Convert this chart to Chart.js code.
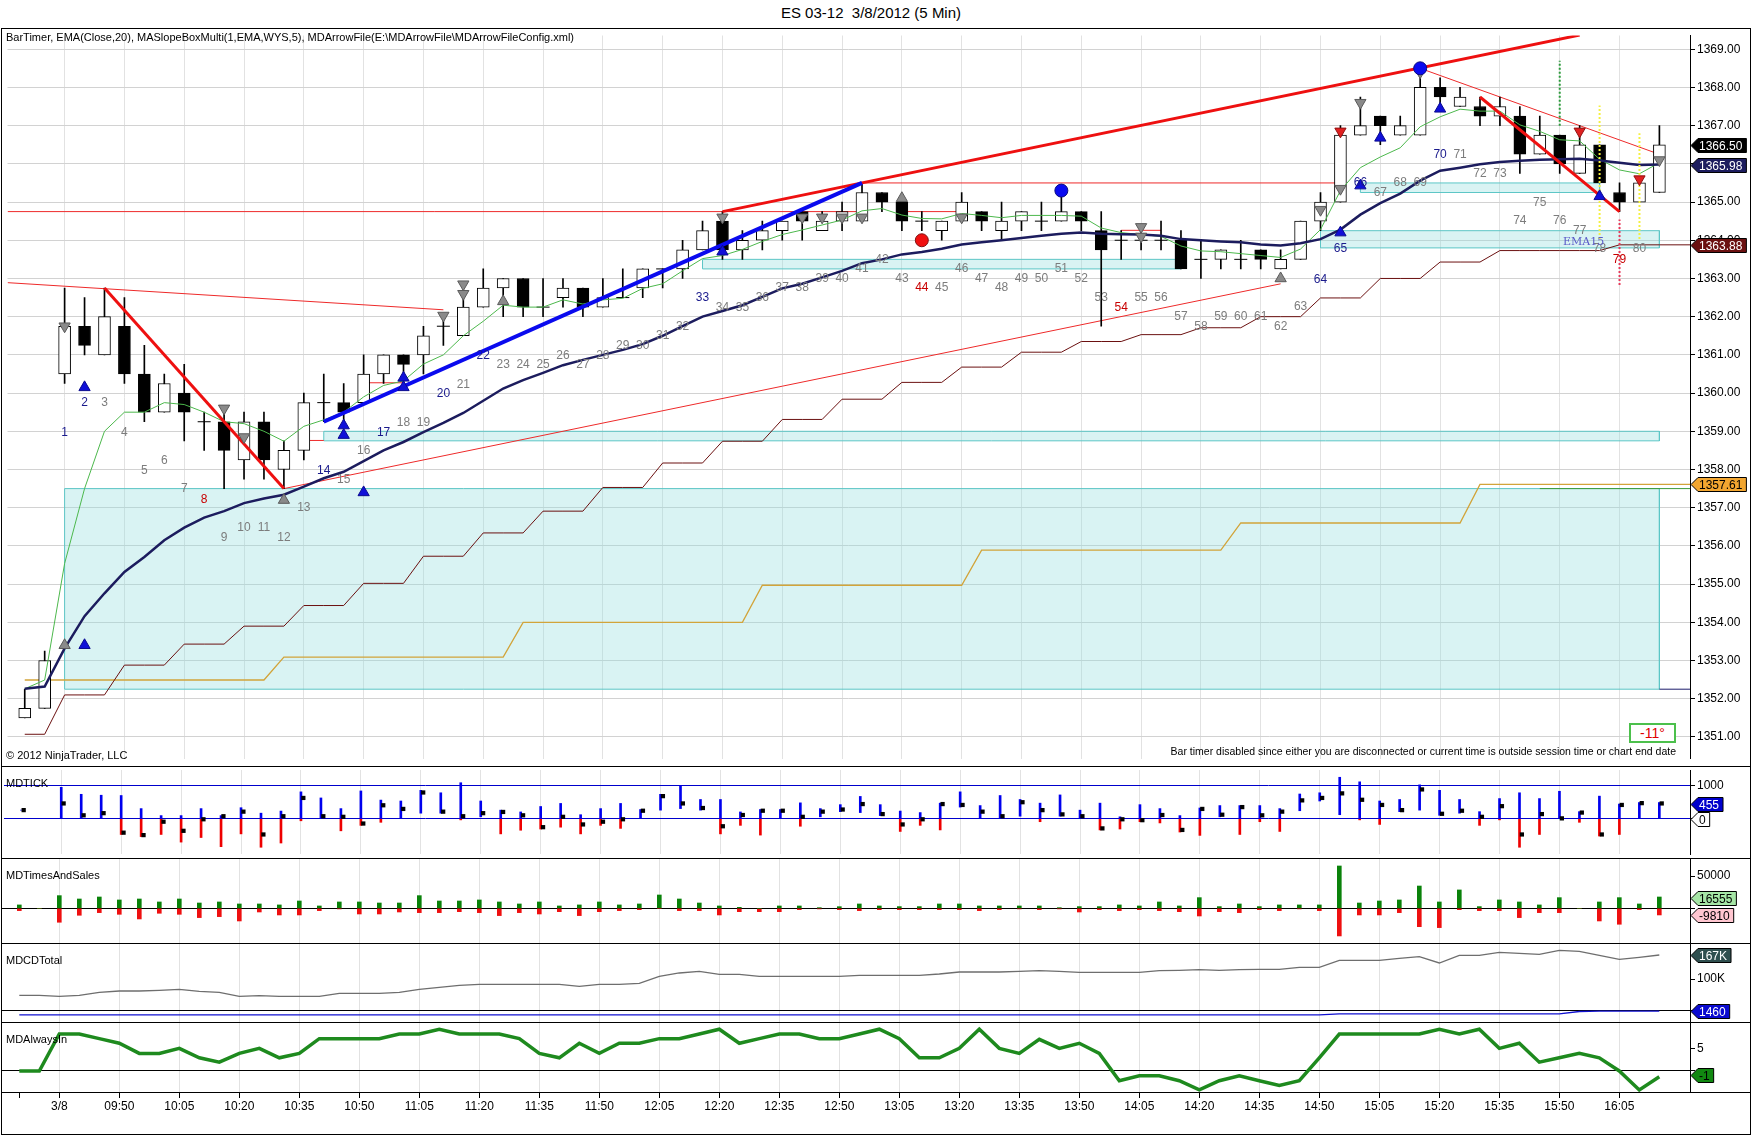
<!DOCTYPE html>
<html>
<head>
<meta charset="utf-8">
<script src="https://cdn.jsdelivr.net/npm/chart.js@4.4.1/dist/chart.umd.min.js"></script>
<style>
  html, body { margin: 0; padding: 0; background: #fff; }
  body { width: 1752px; height: 1136px; position: relative; overflow: hidden; font-family: "Liberation Sans", Arial, sans-serif; }
  canvas { position: absolute; left: 0; display: block; }
  .txt { position: absolute; white-space: nowrap; color: #000; line-height: 1; }
  .sep { position: absolute; left: 1px; width: 1750px; height: 1px; background: #000; }
  #frame { position: absolute; left: 1px; top: 28px; width: 1750px; height: 1107px; border: 1px solid #000; box-sizing: border-box; }
  #angle { position: absolute; left: 1629px; top: 723px; width: 47px; height: 20px; border: 2px solid #4cc04c; box-sizing: border-box; color: #e00000; font-size: 14px; text-align: center; line-height: 16px; background: #fff; }
</style>
</head>
<body>
<div class="txt" style="left:0;width:1742px;top:5px;text-align:center;font-size:15px;">ES 03-12&nbsp;&nbsp;3/8/2012 (5 Min)</div>

<canvas id="cMain" width="1752" height="738" style="top:28px"></canvas>
<canvas id="cTick" width="1752" height="92" style="top:766px"></canvas>
<canvas id="cTas" width="1752" height="85" style="top:858px"></canvas>
<canvas id="cCd" width="1752" height="79" style="top:943px"></canvas>
<canvas id="cAi" width="1752" height="114" style="top:1022px"></canvas>

<div id="frame"></div>
<div class="sep" style="top:766px"></div>
<div class="sep" style="top:858px"></div>
<div class="sep" style="top:943px"></div>
<div class="sep" style="top:1022px"></div>
<div class="sep" style="top:1092px"></div>

<div class="txt" style="left:6px;top:32px;font-size:11px;">BarTimer, EMA(Close,20), MASlopeBoxMulti(1,EMA,WYS,5), MDArrowFile(E:\MDArrowFile\MDArrowFileConfig.xml)</div>
<div class="txt" style="left:6px;top:750px;font-size:11px;">© 2012 NinjaTrader, LLC</div>
<div class="txt" style="right:76px;top:746px;font-size:10.5px;">Bar timer disabled since either you are disconnected or current time is outside session time or chart end date</div>
<div id="angle">-11°</div>
<div class="txt" style="left:6px;top:778px;font-size:11px;">MDTICK</div>
<div class="txt" style="left:6px;top:870px;font-size:11px;">MDTimesAndSales</div>
<div class="txt" style="left:6px;top:955px;font-size:11px;">MDCDTotal</div>
<div class="txt" style="left:6px;top:1034px;font-size:11px;">MDAlwaysIn</div>

<script>
// ---- price bars (index 0,1 = previous session, index 2 = bar "1" at 9:35) ----
const open = [
  1351.5, 1351.75, 1360.5, 1361.75, 1361.0, 1361.75, 1360.5, 1359.5, 1360.0, 1359.25,
  1359.25, 1358.25, 1359.25, 1358.0, 1358.5, 1359.75, 1359.75, 1359.75, 1360.5, 1361.0,
  1361.0, 1361.75, 1361.5, 1362.25, 1362.75, 1363.0, 1362.25, 1362.5, 1362.75, 1362.25,
  1362.5, 1362.75, 1363.25, 1363.25, 1363.75, 1364.5, 1363.75, 1364.0, 1364.25, 1364.75,
  1364.25, 1364.5, 1364.5, 1365.25, 1365.0, 1364.5, 1364.25, 1364.5, 1364.75, 1364.25,
  1364.5, 1364.5, 1364.5, 1364.75, 1364.25, 1364.0, 1364.0, 1364.0, 1364.0, 1363.5,
  1363.5, 1363.5, 1363.75, 1363.25, 1363.5, 1364.5, 1365.0, 1366.75, 1367.25, 1366.75,
  1366.75, 1368.0, 1367.5, 1367.5, 1367.25, 1367.25, 1366.25, 1366.75, 1365.75, 1366.5,
  1365.25, 1365.0, 1365.25
];
const high = [
  1352.25, 1353.25, 1362.75, 1362.5, 1362.75, 1362.5, 1361.25, 1360.5, 1360.75, 1359.5,
  1359.5, 1359.5, 1359.5, 1358.75, 1360.0, 1360.5, 1360.25, 1361.0, 1361.0, 1361.0,
  1361.75, 1362.0, 1362.5, 1363.25, 1363.0, 1363.0, 1363.0, 1363.0, 1362.75, 1363.0,
  1363.25, 1363.25, 1363.25, 1364.0, 1364.5, 1364.75, 1364.25, 1364.5, 1364.5, 1364.75,
  1364.75, 1365.0, 1365.5, 1365.25, 1365.0, 1364.75, 1364.5, 1365.25, 1364.75, 1365.0,
  1364.75, 1365.0, 1365.25, 1364.75, 1364.75, 1364.25, 1364.25, 1364.5, 1364.25, 1364.0,
  1363.75, 1364.0, 1363.75, 1363.75, 1364.5, 1365.25, 1367.0, 1367.75, 1367.25, 1367.25,
  1368.5, 1368.25, 1368.0, 1367.75, 1367.75, 1367.5, 1367.25, 1366.75, 1367.0, 1366.5,
  1365.5, 1365.5, 1367.0
];
const low = [
  1351.5, 1351.75, 1360.25, 1361.0, 1361.0, 1360.25, 1359.25, 1359.5, 1358.75, 1358.5,
  1357.5, 1357.75, 1357.75, 1357.5, 1358.25, 1359.25, 1359.25, 1359.75, 1360.25, 1360.25,
  1360.5, 1361.25, 1361.5, 1362.25, 1362.0, 1362.0, 1362.0, 1362.25, 1362.0, 1362.25,
  1362.5, 1362.5, 1362.75, 1363.0, 1363.75, 1363.5, 1363.5, 1363.75, 1364.0, 1364.0,
  1364.25, 1364.25, 1364.5, 1364.75, 1364.25, 1364.25, 1364.0, 1364.5, 1364.25, 1364.0,
  1364.25, 1364.25, 1364.5, 1364.25, 1361.75, 1363.5, 1363.75, 1363.75, 1363.25, 1363.0,
  1363.25, 1363.25, 1363.25, 1363.25, 1363.5, 1364.25, 1365.0, 1366.75, 1366.5, 1366.75,
  1366.75, 1367.5, 1367.5, 1367.0, 1367.0, 1365.75, 1366.25, 1365.75, 1365.75, 1365.5,
  1364.75, 1365.0, 1365.25
];
const close = [
  1351.75, 1353.0, 1361.75, 1361.25, 1362.0, 1360.5, 1359.5, 1360.25, 1359.5, 1359.25,
  1358.5, 1359.25, 1358.25, 1358.5, 1359.75, 1359.75, 1359.5, 1360.5, 1361.0, 1360.75,
  1361.5, 1361.75, 1362.25, 1362.75, 1363.0, 1362.25, 1362.25, 1362.75, 1362.25, 1362.5,
  1362.5, 1363.25, 1363.25, 1363.75, 1364.25, 1363.75, 1364.0, 1364.25, 1364.5, 1364.5,
  1364.5, 1364.75, 1365.25, 1365.0, 1364.5, 1364.5, 1364.5, 1365.0, 1364.5, 1364.5,
  1364.75, 1364.5, 1364.75, 1364.5, 1363.75, 1364.0, 1364.0, 1364.0, 1363.25, 1363.5,
  1363.75, 1363.5, 1363.5, 1363.5, 1364.5, 1365.0, 1366.75, 1367.0, 1367.0, 1367.0,
  1368.0, 1367.75, 1367.75, 1367.25, 1367.5, 1366.25, 1366.75, 1366.0, 1366.5, 1365.5,
  1365.0, 1365.5, 1366.5
];

// ---- indicator lines ----
const ema20 = [
  1352.26, 1352.49, 1355.54, 1357.5, 1359.0, 1359.5, 1359.5, 1359.75, 1359.7, 1359.5,
  1359.25, 1359.2, 1359.0, 1358.74, 1359.13, 1359.3, 1359.5, 1359.9, 1360.2, 1360.32,
  1360.76, 1361.0, 1361.5, 1361.88, 1362.3, 1362.25, 1362.25, 1362.44, 1362.33, 1362.44,
  1362.48, 1362.74, 1362.86, 1363.2, 1363.52, 1363.6, 1363.76, 1363.97, 1364.15, 1364.27,
  1364.4, 1364.53, 1364.77, 1364.83, 1364.66, 1364.57, 1364.56, 1364.7, 1364.65, 1364.59,
  1364.65, 1364.65, 1364.65, 1364.63, 1364.32, 1364.2, 1364.15, 1364.1, 1363.85, 1363.72,
  1363.7, 1363.65, 1363.6, 1363.55, 1363.77, 1364.28, 1365.3, 1365.9, 1366.18, 1366.42,
  1366.97, 1367.23, 1367.43, 1367.38, 1367.38, 1367.02, 1366.85, 1366.63, 1366.6, 1366.12,
  1365.84, 1365.74, 1366.03
];
const slowMa = [
  1352.26, 1352.32, 1353.32, 1354.16, 1354.76, 1355.32, 1355.71, 1356.15, 1356.48, 1356.74,
  1356.91, 1357.12, 1357.24, 1357.34, 1357.55, 1357.77, 1357.94, 1358.22, 1358.5, 1358.72,
  1358.98, 1359.22, 1359.48, 1359.8, 1360.12, 1360.34, 1360.53, 1360.73, 1360.87, 1361.0,
  1361.13, 1361.28, 1361.5, 1361.75, 1362.0, 1362.15, 1362.3, 1362.52, 1362.74, 1362.86,
  1363.03, 1363.2, 1363.4, 1363.5, 1363.63, 1363.69, 1363.78, 1363.89, 1363.95, 1364.0,
  1364.06, 1364.12, 1364.17, 1364.2, 1364.17, 1364.16, 1364.15, 1364.12, 1364.03, 1364.0,
  1363.97, 1363.95, 1363.89, 1363.86, 1363.92, 1364.03, 1364.28, 1364.67, 1364.97, 1365.22,
  1365.56, 1365.82, 1365.9, 1365.99, 1366.05, 1366.08, 1366.11, 1366.12, 1366.13, 1366.09,
  1366.03, 1365.97, 1365.98
];
const trailStop = [
  1351.07, 1351.07, 1352.1, 1352.1, 1352.1, 1352.88, 1352.88, 1352.88, 1353.43, 1353.43,
  1353.43, 1353.9, 1353.9, 1353.9, 1354.44, 1354.44, 1354.44, 1355.02, 1355.02, 1355.02,
  1355.73, 1355.73, 1355.73, 1356.34, 1356.34, 1356.34, 1356.91, 1356.91, 1356.91, 1357.53,
  1357.53, 1357.53, 1358.17, 1358.17, 1358.17, 1358.74, 1358.74, 1358.74, 1359.31, 1359.31,
  1359.31, 1359.84, 1359.84, 1359.84, 1360.28, 1360.28, 1360.28, 1360.68, 1360.68, 1360.68,
  1361.07, 1361.07, 1361.07, 1361.35, 1361.35, 1361.35, 1361.53, 1361.53, 1361.53, 1361.71,
  1361.71, 1361.71, 1362.0, 1362.0, 1362.0, 1362.49, 1362.49, 1362.49, 1363.0, 1363.0,
  1363.0, 1363.43, 1363.43, 1363.43, 1363.73, 1363.73, 1363.73, 1363.73, 1363.73, 1363.73,
  1363.88, 1363.88, 1363.88
];
const slowStop = [
  1352.49, 1352.49, 1352.49, 1352.49, 1352.49, 1352.49, 1352.49, 1352.49, 1352.49, 1352.49,
  1352.49, 1352.49, 1352.49, 1353.09, 1353.09, 1353.09, 1353.09, 1353.09, 1353.09, 1353.09,
  1353.09, 1353.09, 1353.09, 1353.09, 1353.09, 1354.0, 1354.0, 1354.0, 1354.0, 1354.0,
  1354.0, 1354.0, 1354.0, 1354.0, 1354.0, 1354.0, 1354.0, 1354.97, 1354.97, 1354.97,
  1354.97, 1354.97, 1354.97, 1354.97, 1354.97, 1354.97, 1354.97, 1354.97, 1355.89, 1355.89,
  1355.89, 1355.89, 1355.89, 1355.89, 1355.89, 1355.89, 1355.89, 1355.89, 1355.89, 1355.89,
  1355.89, 1356.6, 1356.6, 1356.6, 1356.6, 1356.6, 1356.6, 1356.6, 1356.6, 1356.6,
  1356.6, 1356.6, 1356.6, 1357.61, 1357.61, 1357.61, 1357.61, 1357.61, 1357.61, 1357.61,
  1357.61, 1357.61, 1357.61
];

// slope boxes: [fromBar, toBar, low, high]
const slopeBoxes = [
  [2, 82, 1352.25, 1357.5],
  [15, 82, 1358.75, 1359.0],
  [34, 58, 1363.25, 1363.5],
  [65, 82, 1363.8, 1364.25],
  [67, 79, 1365.25, 1365.5]
];

// drawn lines: [[bar, price], [bar, price]]
const thickRedLines = [
  [[4, 1362.75], [13, 1357.5]],
  [[35, 1364.75], [78, 1369.37]],
  [[73, 1367.75], [80, 1364.75]]
];
const thickBlueLines = [
  [[15, 1359.25], [42, 1365.5]]
];
const thinRedLines = [
  [[-0.86, 1362.89], [21, 1362.18]],
  [[13, 1357.5], [63, 1362.86]],
  [[70, 1368.5], [82, 1366.25]],
  [[-0.86, 1364.75], [42, 1364.75]],
  [[42, 1365.5], [66, 1365.5]],
  [[14, 1358.76], [15, 1358.76]],
  [[17, 1360.27], [19, 1360.27]],
  [[44, 1364.75], [47, 1364.75]],
  [[55, 1364.26], [57, 1364.26]]
];
const greenDots = [[[77, 1367.0], [77, 1368.7]]];
const yellowDots = [[[79, 1364.03], [79, 1367.53]], [[81, 1364.03], [81, 1366.8]]];
const redDots = [[[80, 1362.83], [80, 1364.54]]];

// arrow / dot markers: [bar, price]
const grayDown = [[2, 1361.75], [10, 1359.6], [11, 1358.85], [21, 1362.03], [22, 1362.85], [22, 1362.6],
  [35, 1364.6], [39, 1364.6], [40, 1364.6], [41, 1364.6], [42, 1364.6], [47, 1364.6], [56, 1364.35],
  [56, 1364.1], [65, 1364.8], [66, 1365.35], [67, 1367.6], [70, 1368.4], [82, 1366.1]];
const grayUp = [[2, 1353.4], [13, 1357.2], [24, 1362.4], [44, 1365.1], [63, 1363.0]];
const blueUp = [[3, 1360.15], [3, 1353.4], [16, 1359.15], [16, 1358.9], [17, 1357.4], [19, 1360.4],
  [19, 1360.15], [35, 1363.7], [66, 1364.2], [67, 1365.43], [68, 1366.68], [71, 1367.44], [79, 1365.15]];
const redDown = [[66, 1366.85], [78, 1366.85], [81, 1365.6]];
const blueDots = [[52, 1365.3], [70, 1368.5]];
const redDotsMk = [[45, 1364.0]];

// bar count labels 1..80 (price where each number is printed)
const numberY = [
  1358.96, 1359.74, 1359.74, 1358.96, 1357.98, 1358.23, 1357.5, 1357.22, 1356.22, 1356.47,
  1356.47, 1356.22, 1356.99, 1357.98, 1357.73, 1358.49, 1358.96, 1359.22, 1359.22, 1359.98,
  1360.23, 1360.98, 1360.75, 1360.75, 1360.75, 1360.98, 1360.75, 1360.98, 1361.24, 1361.24,
  1361.5, 1361.75, 1362.5, 1362.24, 1362.24, 1362.5, 1362.75, 1362.75, 1362.99, 1362.99,
  1363.25, 1363.49, 1362.99, 1362.75, 1362.75, 1363.25, 1362.99, 1362.75, 1362.99, 1362.99,
  1363.25, 1362.99, 1362.5, 1362.24, 1362.5, 1362.5, 1361.99, 1361.75, 1361.99, 1361.99,
  1361.99, 1361.75, 1362.25, 1362.98, 1363.77, 1365.5, 1365.24, 1365.5, 1365.5, 1366.25,
  1366.25, 1365.74, 1365.74, 1364.5, 1364.98, 1364.5, 1364.24, 1363.77, 1363.5, 1363.77
];
const navyNumbers = [1, 2, 14, 17, 20, 22, 33, 64, 65, 66, 70];
const redNumbers = [8, 44, 54, 79];

const priceTicks = [1351, 1352, 1353, 1354, 1355, 1356, 1357, 1358, 1359, 1360,
  1361, 1362, 1363, 1364, 1365, 1366, 1367, 1368, 1369];
const timeTickIndex = [2, 5, 8, 11, 14, 17, 20, 23, 26, 29, 32, 35, 38, 41, 44, 47, 50, 53, 56, 59, 62, 65, 68, 71, 74, 77, 80];
const timeLabels = ['3/8', '09:50', '10:05', '10:20', '10:35', '10:50', '11:05', '11:20', '11:35', '11:50',
  '12:05', '12:20', '12:35', '12:50', '13:05', '13:20', '13:35', '13:50', '14:05', '14:20',
  '14:35', '14:50', '15:05', '15:20', '15:35', '15:50', '16:05'];

// ---- MDTICK ----
const tickHigh = [
  260, null, 954, 741, 713, 704, 306, 93, 93, 306,
  93, 333, 167, 231, 815, 630, 306, 843, 565, 537,
  861, 787, 1093, 537, 259, 204, 370, 463, 120, 306,
  463, 278, 741, 1000, 583, 583, 204, 278, 278, 481,
  306, 426, 676, 426, 231, 185, 472, 815, 398, 704,
  583, 472, 722, 259, 472, 56, 426, 306, 93, 324,
  398, 398, 398, 306, 750, 787, 1259, 1120, 537, 583,
  1028, 861, 583, 213, 611, 787, 611, 833, 213, 685,
  444, 491, 491
];
const tickLow = [
  260, null, 0, 0, 0, -481, -546, -481, -713, -574,
  -852, -463, -870, -741, -65, 0, -370, -204, -111, 0,
  167, 167, -37, 56, -463, -352, -315, -259, -463, -204,
  -296, 0, 259, 306, 259, -463, -204, -500, 0, -231,
  56, 213, 185, 93, -389, -204, -343, 352, 0, 0,
  74, -93, 74, 0, -343, -315, -93, -130, -407, -509,
  56, -481, -93, -389, 241, 537, 120, -37, -176, 213,
  259, 102, 167, -204, -37, -870, -481, 0, -111, -528,
  -481, 0, 0
];
const tickClose = [
  260, null, 463, 102, 167, -426, -500, -93, -370, -19,
  74, 213, -481, 74, 630, 74, 56, -148, 407, 296,
  796, 213, 74, 167, 204, 102, -259, 56, -176, -93,
  -19, 241, 685, 463, 324, -231, 111, 241, 241, 56,
  213, 278, 444, 139, -176, -19, 444, 417, 213, 74,
  500, 259, 130, 74, -296, -19, -46, 111, -343, 296,
  120, 352, 102, 213, 556, 630, 769, 574, 417, 259,
  889, 148, 241, 56, 380, -481, 139, 9, 185, -481,
  417, 472, 463
];

// ---- MDTimesAndSales ----
const tasBuy = [
  5200, 0, 19600, 14400, 17500, 12900, 14400, 9800, 14400, 8200,
  9800, 6700, 6700, 5200, 11300, 3600, 9800, 9800, 8200, 8200,
  19600, 11300, 11300, 12900, 9800, 6700, 9800, 3600, 5200, 9800,
  5200, 6700, 20600, 14400, 8200, 3600, 1500, 0, 3600, 3600,
  1000, 2500, 6700, 3600, 2600, 2600, 6700, 6700, 3600, 3600,
  3600, 3600, 1000, 2600, 2600, 5200, 3600, 9800, 3600, 16500,
  2600, 6700, 2600, 5200, 5200, 5200, 65500, 8200, 11300, 12900,
  34500, 9800, 28400, 2600, 12900, 9800, 5200, 16500, 0, 9800,
  16500, 6700, 17500
];
const tasSell = [
  -3600, 0, -21600, -10800, -6700, -9300, -16500, -7700, -9300, -14400,
  -12900, -19600, -5700, -10300, -10300, -3600, -1000, -8800, -8800, -5700,
  -6700, -6700, -5200, -6700, -11300, -6700, -8800, -5200, -11300, -5200,
  -3600, -2100, 0, -3600, -3600, -10300, -5200, -5200, -5200, -2100,
  -1000, -2100, -3600, -2100, -2100, -2100, -2100, -2100, -3600, -2100,
  -1000, -2100, -1000, -5700, -2100, -3600, -2100, -3600, -5200, -11900,
  -5200, -6700, -2100, -3600, -1000, -3600, -42800, -10300, -10300, -6700,
  -28400, -29900, -2100, -3600, -3600, -14400, -6700, -6700, 0, -19600,
  -24700, -2100, -10300
];

// ---- MDCDTotal (thousands) ----
const cdTotal = [
  54.4, 54.4, 51.6, 54.4, 62.8, 66.5, 66.5, 68.4, 71.2, 65.6,
  62.8, 51.6, 53.5, 51.6, 51.6, 51.6, 60, 60, 60, 62.8,
  71.2, 76.7, 82.3, 85.1, 85.1, 85.1, 85.1, 85.1, 79.5, 85.1,
  85.1, 87.9, 107.4, 116.8, 121.4, 113, 113, 107.4, 107.4, 107.4,
  107.4, 107.4, 110, 110.2, 110.2, 110.2, 114, 119.5, 119.5, 119.5,
  121.4, 123.3, 121.4, 118.6, 118.6, 118.6, 118.6, 123.3, 124.2, 126.1,
  124.2, 126.1, 127, 127, 132.6, 132.6, 152.1, 152.1, 152.1, 157.7,
  162.3, 144.7, 166.1, 166.1, 174.4, 171.7, 168.9, 180, 177.2, 166.1,
  154.9, 160.5, 167
];
const cdDelta = [
  0, 0, 0, 0, 0, 0, 0, 0, 0, 0,
  0, 0, 0, 0, 0, 0, 0, 0, 0, 0,
  0, 0, 0, 0, 0, 0, 0, 0, 0, 0,
  0, 0, 0, 0, 0, 0, 0, 0, 0, 0,
  0, 0, 0, 0, 0, 0, 0, 0, 0, 0,
  0, 0, 0, 0, 0, 0, 0, 0, 0, 0,
  0, 0, 0, 0, 0, 0, 2.8, 2.8, 2.8, 2.8,
  2.8, 2.8, 2.8, 2.8, 2.8, 2.8, 2.8, 2.8, 9.3, 10.5,
  10.5, 10.5, 10.5
];
const cdRefLevel = 10.7;

// ---- MDAlwaysIn ----
const alwaysIn = [
  0, 0, 8.4, 8.4, 7.35, 6.3, 4, 4, 5.15, 3,
  2, 4, 5.15, 3, 4, 7.35, 7.35, 7.35, 7.35, 8.4,
  8.4, 9.5, 8.4, 8.4, 8.4, 7.35, 4, 3, 6.3, 4,
  6.3, 6.3, 7.35, 7.35, 8.4, 9.5, 6.3, 7.35, 8.4, 8.4,
  7.35, 7.35, 8.4, 9.5, 7.35, 3, 3, 5.15, 9.5, 5.15,
  4, 7.2, 5.15, 6.3, 4, -2.2, -1.1, -1.1, -2.2, -4.3,
  -2.2, -1.1, -2.2, -3.3, -2.2, 3, 8.4, 8.4, 8.4, 8.4,
  8.4, 9.5, 8.4, 9.5, 5.15, 6.3, 2, 3, 4, 3,
  0, -4.3, -1.3
];

// ---------------------------------------------------------------
const X_MIN = -0.865;
const X_MAX = 83.535;
const AXIS_W = 62;
const FONT = '"Liberation Sans", Arial, sans-serif';

Chart.defaults.font.family = FONT;
Chart.defaults.animation = false;
Chart.defaults.responsive = false;
Chart.defaults.events = [];
Chart.defaults.plugins.legend.display = false;
Chart.defaults.plugins.tooltip.enabled = false;

const barIndex = open.map((_, i) => i);
const series = (vals) => vals.map((v, i) => ({ x: i, y: v }));
const pts = (list) => list.map(([x, y]) => ({ x, y }));

// value tags on the right axis
Chart.register({
  id: 'tags',
  afterDraw(chart, args, opts) {
    const items = opts.items || [];
    const { ctx, chartArea } = chart;
    const y = chart.scales.y;
    ctx.save();
    ctx.font = '12px ' + FONT;
    ctx.textBaseline = 'middle';
    items.forEach((t) => {
      const py = Math.round(y.getPixelForValue(t.value)) + 0.5;
      const x0 = chartArea.right + 1;
      const w = ctx.measureText(t.text).width + 12;
      ctx.beginPath();
      ctx.moveTo(x0, py);
      ctx.lineTo(x0 + 7, py - 7);
      ctx.lineTo(x0 + w, py - 7);
      ctx.lineTo(x0 + w, py + 7);
      ctx.lineTo(x0 + 7, py + 7);
      ctx.closePath();
      ctx.fillStyle = t.bg;
      ctx.fill();
      ctx.strokeStyle = '#000';
      ctx.lineWidth = 1;
      ctx.stroke();
      ctx.fillStyle = t.fg;
      ctx.fillText(t.text, x0 + 8, py + 1);
    });
    ctx.restore();
  }
});

function xAxis(showLabels) {
  return {
    type: 'linear', min: X_MIN, max: X_MAX, offset: false,
    afterBuildTicks: (s) => { s.ticks = [0].concat(timeTickIndex).map((v) => ({ value: v })); },
    grid: {
      offset: false,
      color: (c) => (c.tick && c.tick.value === 0 ? 'rgba(0,0,0,0)' : '#e2e2e2'),
      drawTicks: showLabels, tickLength: 6, tickColor: '#000'
    },
    border: { display: false },
    ticks: {
      display: showLabels, autoSkip: false, maxRotation: 0, color: '#000', padding: 1,
      font: { size: 12 },
      callback: (v) => { const k = timeTickIndex.indexOf(v); return k < 0 ? '' : timeLabels[k]; }
    },
    afterFit: (s) => { s.height = showLabels ? 44 : 0; s.paddingLeft = 0; s.paddingRight = 0; }
  };
}

function yAxis(min, max, tickVals, labelFn, gridColor) {
  return {
    type: 'linear', position: 'right', min, max,
    afterBuildTicks: (s) => { s.ticks = tickVals.map((v) => ({ value: v })); },
    grid: { color: gridColor, drawTicks: true, tickLength: 5, tickColor: '#000' },
    border: { display: true, color: '#000' },
    ticks: { color: '#000', font: { size: 12 }, padding: 2, autoSkip: false, callback: labelFn },
    afterFit: (s) => { s.width = AXIS_W; s.paddingTop = 0; s.paddingBottom = 0; }
  };
}

function makeChart(id, datasets, y, showX, tags, plugins) {
  return new Chart(document.getElementById(id), {
    type: 'scatter',
    data: { datasets },
    options: {
      layout: { padding: { left: 2, right: 0, top: 0, bottom: 0 } },
      scales: { x: xAxis(showX), y },
      plugins: { tags: { items: tags } }
    },
    plugins: plugins || []
  });
}

function lineSet(points, color, width, order, extra) {
  return Object.assign({
    type: 'line', data: pts(points), borderColor: color, borderWidth: width,
    pointRadius: 0, fill: false, order
  }, extra || {});
}

function markerSet(list, color, border, style, radius, rotation, order) {
  return {
    type: 'scatter', data: pts(list), pointStyle: style, pointRadius: radius,
    pointRotation: rotation, backgroundColor: color, borderColor: border, borderWidth: 1, order
  };
}

// ---- main price panel ----
const barNumbers = {
  id: 'barNumbers',
  afterDatasetsDraw(chart) {
    const { ctx, scales: { x, y } } = chart;
    ctx.save();
    ctx.font = '12px ' + FONT;
    ctx.textAlign = 'center';
    ctx.textBaseline = 'middle';
    numberY.forEach((p, k) => {
      const n = k + 1;
      ctx.fillStyle = navyNumbers.includes(n) ? '#1a1a8c' : redNumbers.includes(n) ? '#c80000' : '#7c7c7c';
      ctx.fillText(String(n), x.getPixelForValue(n + 1), y.getPixelForValue(p));
    });
    ctx.font = '11px "DejaVu Serif", serif';
    ctx.fillStyle = '#5a5ac8';
    ctx.fillText('EMA15', x.getPixelForValue(78.2), y.getPixelForValue(1363.95));
    ctx.restore();
  }
};

const upIdx = barIndex.filter((i) => close[i] > open[i]);
const downIdx = barIndex.filter((i) => close[i] < open[i]);
const dojiIdx = barIndex.filter((i) => close[i] === open[i]);

const mainSets = [];
slopeBoxes.forEach(([a, b, lo, hi]) => {
  mainSets.push(lineSet([[a, hi], [b, hi]], 'rgba(0,0,0,0)', 0, 31,
    { fill: { value: lo }, backgroundColor: 'rgba(150,222,222,0.36)' }));
  mainSets.push(lineSet([[a, lo], [a, hi], [b, hi], [b, lo], [a, lo]], '#5cc6c6', 1, 30));
});
mainSets.push(lineSet([[82, 1352.25], [X_MAX, 1352.25]], '#1c1c6c', 1, 29));
mainSets.push(lineSet([[76, 1357.5], [X_MAX, 1357.5]], '#3a9a3a', 1, 29));
mainSets.push({ type: 'line', data: series(trailStop).concat([{ x: X_MAX, y: trailStop[trailStop.length - 1] }]),
  borderColor: '#6b1010', borderWidth: 1, pointRadius: 0, order: 25 });
mainSets.push({ type: 'line', data: series(slowStop).concat([{ x: X_MAX, y: slowStop[slowStop.length - 1] }]),
  borderColor: '#d2a43a', borderWidth: 1.3, pointRadius: 0, order: 25 });
thinRedLines.forEach((l) => mainSets.push(lineSet(l, '#ee2a2a', 1, 22)));
mainSets.push({
  type: 'bar', data: barIndex.map((i) => ({ x: i, y: [low[i], high[i]] })), grouped: false,
  barThickness: 1, backgroundColor: '#000', borderWidth: 0, order: 20
});
mainSets.push({
  type: 'bar', data: upIdx.map((i) => ({ x: i, y: [open[i], close[i]] })), grouped: false,
  barThickness: 12, backgroundColor: '#fff', borderColor: '#000', borderWidth: 1, borderSkipped: false, order: 19
});
mainSets.push({
  type: 'bar', data: downIdx.map((i) => ({ x: i, y: [close[i], open[i]] })), grouped: false,
  barThickness: 12, backgroundColor: '#000', borderColor: '#000', borderWidth: 1, borderSkipped: false, order: 19
});
mainSets.push({
  type: 'scatter', data: dojiIdx.map((i) => ({ x: i, y: open[i] })), pointStyle: 'line',
  pointRadius: 6.5, borderColor: '#000', borderWidth: 1, order: 18
});
mainSets.push({ type: 'line', data: series(ema20), borderColor: '#4cb84c', borderWidth: 1, pointRadius: 0, order: 15 });
mainSets.push({ type: 'line', data: series(slowMa), borderColor: '#1c1c5e', borderWidth: 2.5, pointRadius: 0, order: 14 });
thickBlueLines.forEach((l) => mainSets.push(lineSet(l, '#0a0aee', 4, 12)));
thickRedLines.forEach((l) => mainSets.push(lineSet(l, '#ee1010', 3, 12)));
greenDots.forEach((l) => mainSets.push(lineSet(l, '#2a9a3a', 2, 11, { borderDash: [2, 2] })));
yellowDots.forEach((l) => mainSets.push(lineSet(l, '#f4f040', 2, 11, { borderDash: [2, 2] })));
redDots.forEach((l) => mainSets.push(lineSet(l, '#e8385a', 2, 11, { borderDash: [2, 2] })));
mainSets.push(markerSet(grayDown, '#8a8a8a', '#5a5a5a', 'triangle', 6.5, 180, 5));
mainSets.push(markerSet(grayUp, '#8a8a8a', '#5a5a5a', 'triangle', 6.5, 0, 5));
mainSets.push(markerSet(blueUp, '#1010d8', '#0a0a90', 'triangle', 6.5, 0, 5));
mainSets.push(markerSet(redDown, '#e02020', '#901010', 'triangle', 6.5, 180, 5));
mainSets.push(markerSet(blueDots, '#0a0af0', '#0a0a80', 'circle', 6.5, 0, 4));
mainSets.push(markerSet(redDotsMk, '#f01010', '#801010', 'circle', 6.5, 0, 4));

makeChart('cMain', mainSets,
  yAxis(1350.436, 1369.359, priceTicks, (v) => v.toFixed(2), '#d2d2d2'),
  false,
  [
    { value: 1366.5, text: '1366.50', bg: '#000', fg: '#fff' },
    { value: 1365.98, text: '1365.98', bg: '#1c1c5e', fg: '#fff' },
    { value: 1363.88, text: '1363.88', bg: '#6b1010', fg: '#fff' },
    { value: 1357.61, text: '1357.61', bg: '#f2a630', fg: '#000' }
  ],
  [barNumbers]);

// ---- MDTICK ----
makeChart('cTick', [
  {
    type: 'bar', grouped: false, barThickness: 2, backgroundColor: '#0000ee', borderWidth: 0, order: 3,
    data: barIndex.filter((i) => tickHigh[i] !== null && tickHigh[i] > 0)
      .map((i) => ({ x: i, y: [Math.max(tickLow[i], 0), tickHigh[i]] }))
  },
  {
    type: 'bar', grouped: false, barThickness: 2, backgroundColor: '#ee0000', borderWidth: 0, order: 3,
    data: barIndex.filter((i) => tickLow[i] !== null && tickLow[i] < 0)
      .map((i) => ({ x: i, y: [tickLow[i], Math.min(tickHigh[i], 0)] }))
  },
  {
    type: 'scatter', pointStyle: 'rect', pointRadius: 3, backgroundColor: '#000', borderColor: '#000', borderWidth: 0, order: 1,
    data: barIndex.filter((i) => tickClose[i] !== null).map((i) => ({ x: i + 0.12, y: tickClose[i] }))
  }
], yAxis(-1075, 1480, [0, 1000], (v) => (v === 1000 ? '1000' : ''), '#0000cc'), false,
  [
    { value: 455, text: '455', bg: '#0000cc', fg: '#fff' },
    { value: 0, text: '0', bg: '#fff', fg: '#000' }
  ]);

// ---- MDTimesAndSales ----
makeChart('cTas', [
  {
    type: 'bar', grouped: false, barThickness: 4, backgroundColor: '#0a820a', borderWidth: 0, order: 2,
    data: barIndex.map((i) => ({ x: i, y: [0, tasBuy[i]] }))
  },
  {
    type: 'bar', grouped: false, barThickness: 4, backgroundColor: '#ee1010', borderWidth: 0, order: 2,
    data: barIndex.map((i) => ({ x: i, y: [tasSell[i], 0] }))
  }
], yAxis(-53716, 77864, [0, 50000], (v) => (v === 50000 ? '50000' : ''),
  (c) => (c.tick && c.tick.value === 0 ? '#000' : 'rgba(0,0,0,0)')), false,
  [
    { value: 16555, text: '16555', bg: '#a6e6a6', fg: '#000' },
    { value: -9810, text: '-9810', bg: '#ffc6d0', fg: '#000' }
  ]);

// ---- MDCDTotal ----
makeChart('cCd', [
  { type: 'line', data: series(cdTotal), borderColor: '#6e6e6e', borderWidth: 1.3, pointRadius: 0, order: 2 },
  { type: 'line', data: series(cdDelta), borderColor: '#1010d0', borderWidth: 1.3, pointRadius: 0, order: 1 }
], yAxis(-20.04, 200.5, [cdRefLevel, 100], (v) => (v === 100 ? '100K' : ''),
  (c) => (c.tick && c.tick.value === cdRefLevel ? '#000' : 'rgba(0,0,0,0)')), false,
  [
    { value: 167, text: '167K', bg: '#2f4f4f', fg: '#fff' },
    { value: cdRefLevel, text: '1460', bg: '#0a0ad0', fg: '#fff' }
  ]);

// ---- MDAlwaysIn ----
makeChart('cAi', [
  { type: 'line', data: series(alwaysIn), borderColor: '#1e8a1e', borderWidth: 3.5, pointRadius: 0, order: 1 }
], yAxis(-4.773, 11.136, [0, 5], (v) => (v === 5 ? '5' : ''),
  (c) => (c.tick && c.tick.value === 0 ? '#000' : 'rgba(0,0,0,0)')), true,
  [
    { value: -1, text: '-1', bg: '#118811', fg: '#000' }
  ]);
</script>
</body>
</html>
